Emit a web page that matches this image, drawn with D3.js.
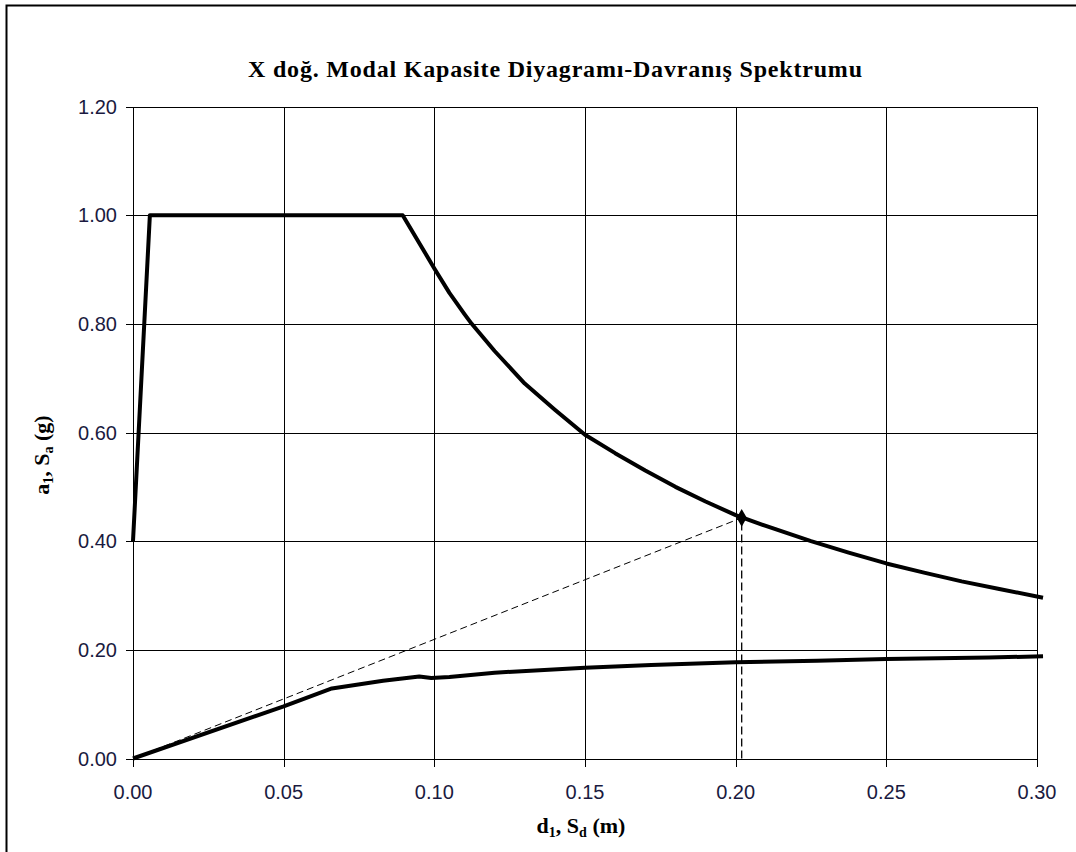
<!DOCTYPE html>
<html>
<head>
<meta charset="utf-8">
<script src="https://cdn.jsdelivr.net/npm/d3@7"></script>
<style>
  html, body { margin: 0; padding: 0; background: #fff; }
  svg { display: block; }
</style>
</head>
<body>
<svg id="chart" width="1076" height="852"></svg>
<script>
// ---- data ----
const titleText = "X doğ. Modal Kapasite Diyagramı-Davranış Spektrumu";
const xTicks = [0.00, 0.05, 0.10, 0.15, 0.20, 0.25, 0.30];
const yTicks = [0.00, 0.20, 0.40, 0.60, 0.80, 1.00, 1.20];

// demand spectrum (Sd [m], Sa [g])
const spectrumSd = [0.000, 0.0056, 0.0895, 0.100, 0.105, 0.110, 0.1124, 0.120, 0.130, 0.140, 0.150, 0.160, 0.170, 0.180, 0.190, 0.200, 0.210, 0.225, 0.2375, 0.250, 0.2625, 0.275, 0.2875, 0.302];
const spectrumSa = [0.400, 1.000, 1.000, 0.902, 0.857, 0.818, 0.800, 0.750, 0.690, 0.642, 0.596, 0.562, 0.530, 0.500, 0.473, 0.448, 0.428, 0.400, 0.379, 0.359, 0.342, 0.326, 0.312, 0.296];

// modal capacity curve (d1 [m], a1 [g])
const capacityD = [0.000, 0.050, 0.066, 0.083, 0.095, 0.099, 0.105, 0.120, 0.150, 0.172, 0.200, 0.227, 0.250, 0.284, 0.302];
const capacityA = [0.000, 0.096, 0.129, 0.143, 0.151, 0.148, 0.150, 0.158, 0.167, 0.172, 0.177, 0.180, 0.183, 0.186, 0.188];

// performance point
const perfSd = [0.202];
const perfSa = [0.443];

// ---- drawing ----
const svg = d3.select("#chart");
const x = d3.scaleLinear().domain([0, 0.30]).range([133, 1037]);
const y = d3.scaleLinear().domain([0, 1.20]).range([758.5, 106.5]);

// outer frame
svg.append("rect").attr("x", 0).attr("y", 0).attr("width", 1076).attr("height", 852).attr("fill", "#fff");
svg.append("path").attr("d", "M6.5,900 V5.5 H1200").attr("fill", "none").attr("stroke", "#000").attr("stroke-width", 2);

// grid
const grid = svg.append("g").attr("stroke", "#000").attr("stroke-width", 1).attr("shape-rendering", "crispEdges");
grid.selectAll(".hg").data(yTicks).join("line")
  .attr("x1", x(0) - 7).attr("x2", x(0.30))
  .attr("y1", d => Math.round(y(d)) + 0.5).attr("y2", d => Math.round(y(d)) + 0.5);
grid.selectAll(".vg").data(xTicks).join("line")
  .attr("y1", y(1.20)).attr("y2", y(0) + 8)
  .attr("x1", d => Math.round(x(d)) + 0.5).attr("x2", d => Math.round(x(d)) + 0.5);

// tick labels
const tickColor = "#1a1a40";
svg.append("g").selectAll("text").data(yTicks).join("text")
  .attr("x", 117).attr("y", d => y(d)).attr("dy", "0.35em")
  .attr("text-anchor", "end")
  .attr("font-family", "Liberation Sans, Arial, sans-serif").attr("font-size", 20)
  .attr("fill", tickColor)
  .text(d => d3.format(".2f")(d));
svg.append("g").selectAll("text").data(xTicks).join("text")
  .attr("x", d => x(d)).attr("y", 799)
  .attr("text-anchor", "middle")
  .attr("font-family", "Liberation Sans, Arial, sans-serif").attr("font-size", 20)
  .attr("fill", tickColor)
  .text(d => d3.format(".2f")(d));

// title
svg.append("text")
  .attr("x", 248).attr("y", 77)
  .attr("textLength", 614).attr("lengthAdjust", "spacing")
  .attr("font-family", "Liberation Serif, Times New Roman, serif")
  .attr("font-weight", "bold").attr("font-size", 24).attr("fill", "#000")
  .text(titleText);

// axis titles
const xt = svg.append("text")
  .attr("x", 581).attr("y", 833).attr("text-anchor", "middle")
  .attr("font-family", "Liberation Serif, Times New Roman, serif")
  .attr("font-weight", "bold").attr("font-size", 22).attr("fill", "#000");
xt.append("tspan").text("d");
xt.append("tspan").attr("font-size", 14).attr("dy", 4).text("1");
xt.append("tspan").attr("dy", -4).text(", S");
xt.append("tspan").attr("font-size", 14).attr("dy", 4).text("d");
xt.append("tspan").attr("dy", -4).text(" (m)");

const yt = svg.append("text")
  .attr("transform", "translate(49,455) rotate(-90)").attr("text-anchor", "middle")
  .attr("font-family", "Liberation Serif, Times New Roman, serif")
  .attr("font-weight", "bold").attr("font-size", 22).attr("fill", "#000");
yt.append("tspan").text("a");
yt.append("tspan").attr("font-size", 14).attr("dy", 4).text("1");
yt.append("tspan").attr("dy", -4).text(", S");
yt.append("tspan").attr("font-size", 14).attr("dy", 4).text("a");
yt.append("tspan").attr("dy", -4).text(" (g)");

// lines
const line = d3.line().x(d => x(d[0])).y(d => y(d[1]));
const spectrum = spectrumSd.map((d, i) => [d, spectrumSa[i]]);
const capacity = capacityD.map((d, i) => [d, capacityA[i]]);
const perf = [perfSd[0], perfSa[0]];

// dashed diagonal from origin to performance point
svg.append("path").attr("d", line([[0, 0], perf]))
  .attr("fill", "none").attr("stroke", "#000").attr("stroke-width", 1).attr("stroke-dasharray", "7,4");
// vertical dashed line
svg.append("path").attr("d", line([[perf[0], 0], perf]))
  .attr("fill", "none").attr("stroke", "#000").attr("stroke-width", 1.3).attr("stroke-dasharray", "8,4");

svg.append("path").attr("d", line(spectrum))
  .attr("fill", "none").attr("stroke", "#000").attr("stroke-width", 4).attr("stroke-linejoin", "round");
svg.append("path").attr("d", line(capacity))
  .attr("fill", "none").attr("stroke", "#000").attr("stroke-width", 4).attr("stroke-linejoin", "round");

// performance point marker
svg.append("path")
  .attr("transform", `translate(${x(perf[0])},${y(perf[1])})`)
  .attr("d", d3.symbol().type(d3.symbolDiamond).size(90))
  .attr("fill", "#000");
</script>
</body>
</html>
